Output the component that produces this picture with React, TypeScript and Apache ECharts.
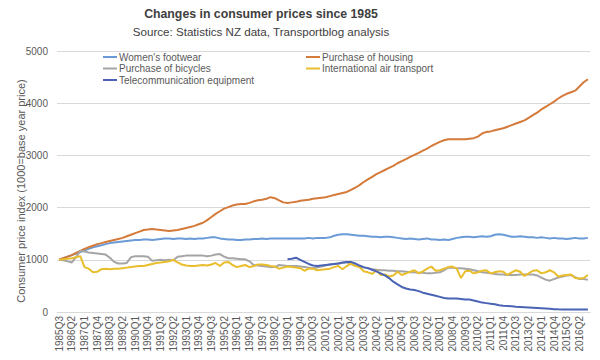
import React, { useEffect, useRef } from "react";
import * as echarts from "echarts";

const startYear = 1985;
const startQuarter = 3;
const quarterCount = 126;
const categories: string[] = [];
for (let k = 0; k < quarterCount; k++) {
  const q = startQuarter - 1 + k;
  categories.push(`${startYear + Math.floor(q / 4)}Q${(q % 4) + 1}`);
}

const yTicks = [0, 1000, 2000, 3000, 4000, 5000];

const womensFootwear = [
  1000, 1030, 1060, 1090, 1120, 1150, 1180, 1210, 1240, 1260, 1280, 1300, 1320, 1330, 1340, 1350,
  1360, 1370, 1380, 1380, 1390, 1390, 1380, 1390, 1400, 1410, 1410, 1400, 1410, 1410, 1400, 1410,
  1400, 1410, 1410, 1420, 1430, 1430, 1410, 1400, 1390, 1390, 1380, 1380, 1390, 1390, 1400, 1400,
  1410, 1400, 1410, 1410, 1410, 1410, 1410, 1410, 1410, 1410, 1410, 1420, 1410, 1420, 1420, 1420,
  1430, 1460, 1480, 1490, 1490, 1480, 1470, 1460, 1460, 1450, 1440, 1440, 1430, 1440, 1440, 1430,
  1420, 1410, 1400, 1410, 1400, 1390, 1400, 1410, 1390, 1390, 1380, 1390, 1380, 1400, 1420, 1430,
  1440, 1440, 1430, 1440, 1450, 1440, 1450, 1480, 1490, 1480, 1460, 1440, 1440, 1450, 1440, 1430,
  1430, 1420, 1430, 1420, 1410, 1420, 1410, 1410, 1400, 1410, 1420, 1410, 1410, 1420,
];

const purchaseOfHousing = [
  1000, 1030, 1060, 1090, 1130, 1170, 1210, 1240, 1270, 1300, 1320, 1340, 1360, 1380, 1400, 1420,
  1450, 1480, 1510, 1540, 1570, 1580, 1590, 1580, 1570, 1560, 1550, 1560, 1570, 1590, 1610, 1630,
  1650, 1680, 1710, 1760, 1820, 1880, 1930, 1980, 2010, 2040, 2060, 2070, 2070, 2090, 2120, 2140,
  2150, 2170, 2200, 2180, 2140, 2100, 2090, 2100, 2110, 2130, 2140, 2150, 2170, 2180, 2190, 2200,
  2220, 2240, 2260, 2280, 2300, 2340, 2380, 2430, 2490, 2540, 2590, 2640, 2680, 2720, 2760, 2800,
  2850, 2890, 2930, 2970, 3010, 3050, 3090, 3130, 3180, 3220, 3260, 3290, 3310, 3310, 3310, 3310,
  3310, 3320, 3330, 3360, 3420, 3450, 3460, 3480, 3500, 3520, 3550, 3580, 3610, 3640, 3670, 3720,
  3770, 3820, 3880, 3930, 3980, 4030, 4090, 4140, 4180, 4210, 4240, 4320, 4400, 4460,
];

const purchaseOfBicycles = [
  1000, 990, 970, 950, 1050, 1170, 1160, 1140, 1130, 1120, 1110, 1100, 1040, 960, 930, 930,
  940, 1050, 1070, 1070, 1070, 1060, 980, 990, 1000, 990, 1000, 990, 1060, 1070, 1080, 1080,
  1080, 1080, 1080, 1070, 1080, 1100, 1110, 1060, 1030, 1030, 1020, 1010, 1010, 970, 900, 890,
  880, 870, 860, 860, 900, 890, 880, 880, 880, 870, 860, 850, 840, 850, 870, 890,
  910, 920, 930, 940, 950, 920, 890, 870, 850, 840, 820, 810, 800, 800, 790, 790,
  780, 780, 770, 760, 760, 750, 750, 740, 740, 750, 760, 800, 850, 850, 840, 840,
  830, 820, 800, 780, 760, 750, 740, 730, 720, 720, 710, 710, 710, 720, 720, 720,
  720, 700, 660, 620, 600, 630, 660, 680, 700, 710, 670, 630, 630, 620,
];

const internationalAirTransport = [
  1000, 1010, 1020, 1030, 1050, 1070, 860, 830, 760, 770, 820, 830, 820, 830, 830, 840,
  850, 860, 870, 880, 880, 900, 920, 940, 950, 960, 970, 1000, 950, 910, 890, 880,
  880, 890, 900, 890, 910, 940, 880, 950, 960, 900, 860, 880, 900, 860, 880, 910,
  910, 900, 880, 870, 830, 850, 870, 860, 850, 840, 790, 830, 830, 800, 810, 820,
  830, 860, 880, 820, 880, 930, 880, 860, 780, 760, 730, 800, 710, 720, 680, 700,
  770, 710, 740, 770, 800, 740, 780, 830, 870, 790, 800, 830, 860, 870, 830, 650,
  780, 790, 740, 760, 790, 800, 740, 760, 780, 770, 710, 760, 800, 770, 690, 740,
  790, 800, 740, 760, 800, 760, 680, 700, 710, 720, 650, 640, 650, 710,
];

const telecommunicationEquipment = [
  null, null, null, null, null, null, null, null, null, null, null, null, null, null, null, null,
  null, null, null, null, null, null, null, null, null, null, null, null, null, null, null, null,
  null, null, null, null, null, null, null, null, null, null, null, null, null, null, null, null,
  null, null, null, null, null, null, 1010, 1020, 1040, 1000, 960, 920, 890, 880, 890, 900,
  910, 920, 930, 950, 960, 960, 930, 890, 860, 840, 810, 780, 740, 700, 650, 580,
  530, 480, 450, 430, 420, 400, 370, 350, 330, 310, 290, 270, 260, 260, 260, 250,
  240, 240, 220, 200, 180, 170, 160, 150, 130, 120, 115, 110, 100, 95, 90, 85,
  80, 75, 70, 65, 60, 55, 52, 50, 50, 50, 50, 50, 50, 50,
];

const seriesNames = [
  "Women's footwear",
  "Purchase of housing",
  "Purchase of bicycles",
  "International air transport",
  "Telecommunication equipment",
];
const seriesData = [
  womensFootwear,
  purchaseOfHousing,
  purchaseOfBicycles,
  internationalAirTransport,
  telecommunicationEquipment,
];
const seriesColors = ["#6B9BD6", "#D47A3A", "#A5A5A5", "#E9BE2C", "#4A63B5"];

const FONT = "'Liberation Sans', Arial, sans-serif";
const GREY = "#595959";

export default function App() {
  const ref = useRef<HTMLDivElement>(null);

  useEffect(() => {
    if (!ref.current) return;
    const chart = echarts.init(ref.current, undefined, { renderer: "svg" });
    const legendCommon = {
      orient: "vertical" as const,
      top: 52,
      padding: 0,
      itemWidth: 14,
      itemHeight: 2,
      itemGap: 1.5,
      icon: "rect",
      textStyle: {
        fontSize: 10,
        lineHeight: 10,
        color: GREY,
        fontFamily: FONT,
        padding: [0, 0, 0, -3],
      },
      selectedMode: false,
    };
    chart.setOption({
      animation: false,
      backgroundColor: "#ffffff",
      title: [
        {
          text: "Changes in consumer prices since 1985",
          left: 261,
          top: 8,
          padding: 0,
          textAlign: "center",
          textStyle: { fontSize: 12.3, fontWeight: "bold", color: "#404040", fontFamily: FONT },
        },
        {
          text: "Source: Statistics NZ data, Transportblog analysis",
          left: 261,
          top: 25,
          padding: 0,
          textAlign: "center",
          textStyle: { fontSize: 11.6, fontWeight: "normal", color: "#404040", fontFamily: FONT },
        },
      ],
      legend: [
        {
          ...legendCommon,
          left: 103,
          data: [seriesNames[0], seriesNames[2], seriesNames[4]].map((n) => ({
            name: n,
            itemStyle: { color: seriesColors[seriesNames.indexOf(n)] },
          })),
        },
        {
          ...legendCommon,
          left: 306,
          data: [seriesNames[1], seriesNames[3]].map((n) => ({
            name: n,
            itemStyle: { color: seriesColors[seriesNames.indexOf(n)] },
          })),
        },
      ],
      graphic: [
        {
          type: "text",
          x: 21,
          y: 191,
          rotation: Math.PI / 2,
          style: {
            text: "Consumer price index (1000=base year price)",
            fontSize: 11,
            fontFamily: FONT,
            fill: GREY,
            align: "center",
            verticalAlign: "middle",
          },
        },
      ],
      grid: { left: 57, right: 10, top: 51, bottom: 48 },
      xAxis: {
        type: "category",
        data: categories,
        boundaryGap: true,
        axisLine: { lineStyle: { color: "#d9d9d9" } },
        axisTick: { show: false },
        axisLabel: {
          interval: 2,
          rotate: 90,
          fontSize: 10,
          color: GREY,
          fontFamily: FONT,
          margin: 4,
        },
      },
      yAxis: {
        type: "value",
        min: yTicks[0],
        max: yTicks[yTicks.length - 1],
        interval: 1000,
        axisLine: { show: false },
        axisTick: { show: false },
        axisLabel: {
          fontSize: 10,
          color: GREY,
          fontFamily: FONT,
          margin: 9,
          formatter: (v: number) => String(v),
        },
        splitLine: { lineStyle: { color: "#d9d9d9" } },
      },
      series: seriesNames.map((name, idx) => ({
        name,
        type: "line",
        data: seriesData[idx],
        showSymbol: false,
        symbol: "none",
        connectNulls: false,
        lineStyle: { width: 2, color: seriesColors[idx] },
        itemStyle: { color: seriesColors[idx] },
      })),
    });
    return () => chart.dispose();
  }, []);

  return (
    <div
      ref={ref}
      style={{ position: "fixed", left: 0, top: 0, width: 600, height: 360 }}
    />
  );
}
